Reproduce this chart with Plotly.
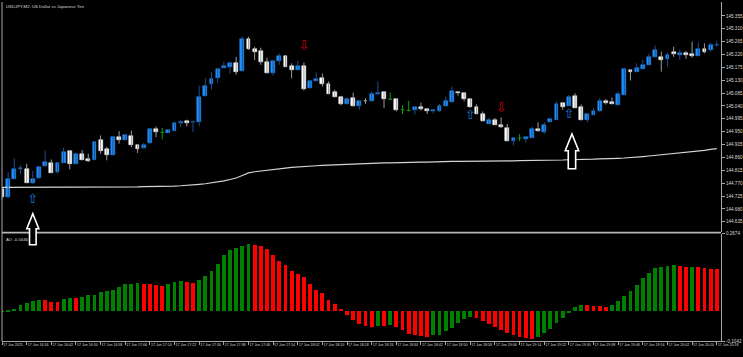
import plotly.graph_objects as go
import pandas as pd

# ---------------- data ----------------
opens = [144.749, 144.720, 144.786, 144.818, 144.821, 144.771, 144.787, 144.830, 144.841, 144.809,
         144.841, 144.882, 144.838, 144.873, 144.853, 144.852, 144.921, 144.888, 144.868, 144.932,
         144.920, 144.935, 144.903, 144.892, 144.910, 144.961, 144.948, 144.946, 144.954, 144.980,
         144.986, 144.983, 144.984, 145.076, 145.116, 145.137, 145.174, 145.178, 145.189, 145.163,
         145.274, 145.241, 145.233, 145.193, 145.154, 145.199, 145.215, 145.180, 145.166, 145.180,
         145.102, 145.128, 145.139, 145.116, 145.088, 145.073, 145.047, 145.067, 145.039, 145.057,
         145.056, 145.081, 145.088, 145.064, 145.065, 145.027, 145.025, 145.025, 145.035, 145.031,
         145.021, 145.021, 145.039, 145.054, 145.088, 145.085, 145.064, 145.035, 145.013, 144.978,
         144.990, 144.975, 144.963, 144.917, 144.928, 144.926, 144.928, 144.960, 144.949, 144.984,
         144.992, 145.050, 145.041, 145.076, 145.035, 144.990, 145.010, 145.021, 145.056, 145.054,
         145.045, 145.079, 145.166, 145.160, 145.170, 145.184, 145.212, 145.212, 145.206, 145.230,
         145.218, 145.224, 145.222, 145.216, 145.241, 145.236, 145.253]
highs = [144.754, 144.809, 144.857, 144.833, 144.838, 144.813, 144.830, 144.885, 144.853, 144.844,
         144.894, 144.884, 144.875, 144.886, 144.873, 144.917, 144.937, 144.897, 144.934, 144.952,
         144.940, 144.954, 144.905, 144.911, 144.960, 144.968, 144.963, 144.957, 144.981, 144.992,
         144.992, 144.989, 145.111, 145.137, 145.158, 145.171, 145.195, 145.193, 145.212, 145.284,
         145.282, 145.247, 145.244, 145.209, 145.199, 145.224, 145.218, 145.189, 145.198, 145.192,
         145.129, 145.157, 145.154, 145.126, 145.097, 145.075, 145.070, 145.087, 145.058, 145.067,
         145.091, 145.126, 145.090, 145.087, 145.066, 145.042, 145.058, 145.036, 145.052, 145.032,
         145.026, 145.047, 145.073, 145.108, 145.091, 145.086, 145.065, 145.045, 145.021, 144.998,
         144.998, 145.000, 144.977, 144.929, 144.942, 144.932, 144.967, 144.983, 144.983, 144.995,
         145.056, 145.051, 145.079, 145.085, 145.045, 145.014, 145.033, 145.067, 145.064, 145.070,
         145.091, 145.174, 145.167, 145.189, 145.202, 145.223, 145.251, 145.230, 145.226, 145.247,
         145.236, 145.232, 145.265, 145.262, 145.259, 145.262, 145.268]
lows = [144.715, 144.717, 144.785, 144.801, 144.771, 144.766, 144.785, 144.828, 144.806, 144.803,
        144.840, 144.818, 144.837, 144.851, 144.844, 144.851, 144.873, 144.850, 144.867, 144.908,
        144.919, 144.896, 144.876, 144.890, 144.908, 144.931, 144.923, 144.945, 144.953, 144.966,
        144.969, 144.949, 144.969, 145.074, 145.097, 145.120, 145.173, 145.154, 145.149, 145.161,
        145.236, 145.201, 145.184, 145.153, 145.146, 145.184, 145.177, 145.137, 145.165, 145.094,
        145.101, 145.127, 145.108, 145.081, 145.070, 145.042, 145.046, 145.038, 145.027, 145.047,
        145.055, 145.079, 145.033, 145.062, 145.021, 145.012, 145.021, 145.010, 145.024, 145.012,
        145.014, 145.020, 145.038, 145.052, 145.076, 145.056, 145.034, 145.011, 144.985, 144.977,
        144.974, 144.963, 144.916, 144.902, 144.917, 144.911, 144.927, 144.951, 144.942, 144.983,
        144.991, 145.027, 145.040, 145.032, 144.990, 144.983, 145.008, 145.020, 145.045, 145.046,
        145.043, 145.078, 145.129, 145.159, 145.168, 145.182, 145.209, 145.160, 145.178, 145.212,
        145.202, 145.205, 145.209, 145.215, 145.224, 145.230, 145.247]
closes = [144.720, 144.784, 144.818, 144.824, 144.772, 144.785, 144.828, 144.844, 144.807, 144.841,
          144.880, 144.838, 144.873, 144.852, 144.846, 144.914, 144.882, 144.868, 144.932, 144.921,
          144.938, 144.903, 144.888, 144.905, 144.959, 144.949, 144.948, 144.955, 144.980, 144.984,
          144.980, 144.984, 145.073, 145.111, 145.135, 145.170, 145.181, 145.192, 145.158, 145.276,
          145.241, 145.230, 145.193, 145.154, 145.198, 145.215, 145.178, 145.166, 145.181, 145.099,
          145.128, 145.134, 145.116, 145.083, 145.071, 145.047, 145.064, 145.039, 145.056, 145.056,
          145.083, 145.087, 145.064, 145.064, 145.025, 145.027, 145.025, 145.035, 145.029, 145.021,
          145.025, 145.039, 145.058, 145.094, 145.085, 145.064, 145.035, 145.012, 144.986, 144.992,
          144.975, 144.967, 144.917, 144.928, 144.928, 144.931, 144.960, 144.952, 144.975, 144.994,
          145.048, 145.036, 145.070, 145.033, 144.991, 145.013, 145.024, 145.058, 145.050, 145.047,
          145.081, 145.170, 145.158, 145.174, 145.184, 145.212, 145.237, 145.202, 145.219, 145.223,
          145.224, 145.218, 145.215, 145.238, 145.230, 145.255, 145.255]
ma_values = [
    144.755, 144.755, 144.755, 144.755, 144.755, 144.755, 144.755, 144.755, 144.755, 144.755,
    144.755, 144.755, 144.755, 144.755, 144.755, 144.755, 144.755, 144.755, 144.755, 144.756,
    144.756, 144.757, 144.757, 144.758, 144.758, 144.759, 144.759, 144.760, 144.760, 144.761,
    144.762, 144.764, 144.766, 144.768, 144.771, 144.774, 144.778, 144.783, 144.788, 144.797,
    144.806, 144.810, 144.813, 144.816, 144.819, 144.821, 144.823, 144.825, 144.827, 144.829,
    144.830, 144.831, 144.832, 144.833, 144.834, 144.836, 144.837, 144.838, 144.838, 144.839,
    144.840, 144.840, 144.841, 144.841, 144.842, 144.842, 144.843, 144.843, 144.844, 144.844,
    144.845, 144.845, 144.845, 144.846, 144.846, 144.846, 144.846, 144.847, 144.847, 144.847,
    144.847, 144.848, 144.848, 144.848, 144.849, 144.849, 144.849, 144.850, 144.850, 144.850,
    144.851, 144.851, 144.852, 144.852, 144.853, 144.853, 144.854, 144.855, 144.855, 144.856,
    144.857, 144.858, 144.859, 144.861, 144.863, 144.865, 144.867, 144.869, 144.871, 144.873,
    144.876, 144.877, 144.879, 144.883, 144.885, 144.888, 144.891]
ao_values = [0.0005, 0.0015, 0.0079, 0.0230, 0.0299, 0.0354, 0.0402, 0.0389, 0.0320, 0.0310,
             0.0423, 0.0458, 0.0447, 0.0506, 0.0550, 0.0574, 0.0664, 0.0698, 0.0746, 0.0836,
             0.0929, 0.0953, 0.0974, 0.0939, 0.0929, 0.0905, 0.0870, 0.0939, 0.1022, 0.1032,
             0.1022, 0.0974, 0.1066, 0.1228, 0.1410, 0.1641, 0.1961, 0.2122, 0.2178, 0.2260,
             0.2329, 0.2294, 0.2246, 0.2157, 0.1950, 0.1744, 0.1593, 0.1410, 0.1307, 0.1170,
             0.0929, 0.0746, 0.0630, 0.0402, 0.0241, 0.0093, -0.0127, -0.0310, -0.0458, -0.0526,
             -0.0550, -0.0516, -0.0526, -0.0492, -0.0550, -0.0664, -0.0791, -0.0836, -0.0870, -0.0884,
             -0.0836, -0.0815, -0.0698, -0.0585, -0.0413, -0.0265, -0.0182, -0.0217, -0.0320, -0.0447,
             -0.0561, -0.0664, -0.0746, -0.0836, -0.0894, -0.0929, -0.0963, -0.0884, -0.0746, -0.0609,
             -0.0402, -0.0217, -0.0034, 0.0162, 0.0217, 0.0206, 0.0196, 0.0172, 0.0162, 0.0230,
             0.0368, 0.0540, 0.0712, 0.0918, 0.1135, 0.1331, 0.1490, 0.1538, 0.1558, 0.1593,
             0.1582, 0.1538, 0.1548, 0.1538, 0.1503, 0.1469, 0.1455]

bar_times = pd.date_range("2025-06-17 16:26", periods=len(opens), freq="2min")
time_label_step = 4
price_tick_labels = ["144.635", "144.680", "144.725", "144.770", "144.815", "144.860",
                     "144.905", "144.950", "144.995", "145.040", "145.085", "145.130",
                     "145.175", "145.220", "145.265", "145.310", "145.355"]
ao_tick_labels = ["0.2674", "-0.1042"]
ao_axis_range = [-0.1042, 0.2674]
price_axis_range = [144.6005, 145.4037]

up_signal_bars = [5, 76, 92]
up_signal_prices = [144.712, 145.005, 145.008]
down_signal_bars = [49, 81]
down_signal_prices = [145.248, 145.032]

callout_bars = [5, 92.5]
callout_tip_prices = [144.663, 144.942]
callout_scale = [1.0, 1.12]

title_text = "USDJPY,M2: US Dollar vs Japanese Yen"
ao_label_text = "AO -0.0446"

# ---------------- styling ----------------
BG = "#000000"
AXIS = "#a8a8a8"
TXT = "#d8d8d8"
BULL_BODY = "#1e90ff"
BULL_WICK = "#1f4f8f"
BEAR_BODY = "#ffffff"
BEAR_WICK = "#9a9a9a"
DOJI = "#139a13"
AO_UP = "#008000"
AO_DN = "#ff0000"
FONT = "Liberation Sans"
W = 0.62

n = len(opens)
idx = list(range(n))

fig = go.Figure()

# moving average
fig.add_trace(go.Scatter(x=idx, y=ma_values, mode="lines",
                         line=dict(color="#d4d4d4", width=1.2), hoverinfo="skip",
                         xaxis="x", yaxis="y"))

# wicks
bull_x, bull_y, bear_x, bear_y, doji_x, doji_y = [], [], [], [], [], []
for i in idx:
    if closes[i] > opens[i]:
        bull_x += [i, i, None]; bull_y += [lows[i], highs[i], None]
    elif closes[i] < opens[i]:
        bear_x += [i, i, None]; bear_y += [lows[i], highs[i], None]
    else:
        doji_x += [i, i, None, i - W / 2, i + W / 2, None]
        doji_y += [lows[i], highs[i], None, opens[i], opens[i], None]
for xs, ys, c in [(bull_x, bull_y, BULL_WICK), (bear_x, bear_y, BEAR_WICK), (doji_x, doji_y, DOJI)]:
    fig.add_trace(go.Scatter(x=xs, y=ys, mode="lines", line=dict(color=c, width=1),
                             hoverinfo="skip", xaxis="x", yaxis="y"))

# bodies
bi = [i for i in idx if closes[i] > opens[i]]
si = [i for i in idx if closes[i] < opens[i]]
fig.add_trace(go.Bar(x=bi, y=[closes[i] - opens[i] for i in bi], base=[opens[i] for i in bi],
                     width=W, marker=dict(color=BULL_BODY, line=dict(color=BULL_BODY, width=0.5)),
                     xaxis="x", yaxis="y", hoverinfo="skip"))
fig.add_trace(go.Bar(x=si, y=[closes[i] - opens[i] for i in si], base=[opens[i] for i in si],
                     width=W, marker=dict(color=BEAR_BODY, line=dict(color=BEAR_BODY, width=0.5)),
                     xaxis="x", yaxis="y", hoverinfo="skip"))

# signal arrows
fig.add_trace(go.Scatter(x=up_signal_bars, y=up_signal_prices, mode="text", text=["⇧"] * len(up_signal_bars),
                         textfont=dict(family="DejaVu Sans", size=13, color="#1c78d8"),
                         textposition="middle center", xaxis="x", yaxis="y", hoverinfo="skip"))
fig.add_trace(go.Scatter(x=down_signal_bars, y=down_signal_prices, mode="text", text=["⇩"] * len(down_signal_bars),
                         textfont=dict(family="DejaVu Sans", size=13, color="#d00000"),
                         textposition="middle center", xaxis="x", yaxis="y", hoverinfo="skip"))

# AO histogram
ao_colors = [AO_UP if i == 0 or ao_values[i] > ao_values[i - 1] else AO_DN for i in idx]
fig.add_trace(go.Bar(x=idx, y=ao_values, width=W, marker=dict(color=ao_colors, line=dict(width=0)),
                     xaxis="x", yaxis="y2", hoverinfo="skip"))

# ---------------- layout ----------------
ML, MR, MT, MB = 2, 21, 0, 16
H = 357
plot_h = H - MT - MB
main_bottom = (plot_h - 231) / plot_h
ao_top = (plot_h - 233) / plot_h
sep_y = (plot_h - 232) / plot_h


def price_to_paper(p):
    lo, hi = price_axis_range
    return main_bottom + (p - lo) / (hi - lo) * (1 - main_bottom)


tick_bars = idx[::time_label_step]
tick_text = []
for k in tick_bars:
    t = bar_times[k]
    tick_text.append(t.strftime("%d %b %Y") if k == 0 else t.strftime("%d %b %H:%M"))

shapes = [
    dict(type="line", xref="paper", yref="paper", x0=0, x1=0, y0=0, y1=1,
         line=dict(color=AXIS, width=1)),
    dict(type="line", xref="paper", yref="paper", x0=0, x1=1, y0=sep_y, y1=sep_y,
         line=dict(color="#b8b8b8", width=1.6)),
]
for b, p, s in zip(callout_bars, callout_tip_prices, callout_scale):
    hw, sw, hh, tl = 6.0 * s, 3.3 * s, 15.0 * s, 31.0 * s
    path = (f"M 0 0 L {hw} {-hh} L {sw} {-hh} L {sw} {-tl} L {-sw} {-tl} "
            f"L {-sw} {-hh} L {-hw} {-hh} Z")
    shapes.append(dict(type="path", xref="x", yref="paper", xsizemode="pixel", ysizemode="pixel",
                       xanchor=b, yanchor=price_to_paper(p), path=path, fillcolor=BG,
                       line=dict(color="#ffffff", width=1.6), layer="above"))

fig.update_layout(
    width=743, height=H,
    margin=dict(l=ML, r=MR, t=MT, b=MB, pad=0),
    paper_bgcolor=BG, plot_bgcolor=BG,
    showlegend=False, barmode="overlay", bargap=0,
    font=dict(family=FONT, size=5, color=TXT),
    xaxis=dict(domain=[0, 1], anchor="y2", range=[0, 116.69], showgrid=False, zeroline=False,
               showline=True, linecolor=AXIS, linewidth=1, ticks="outside", ticklen=3,
               tickcolor=AXIS, tickwidth=1, tickvals=tick_bars, ticktext=tick_text,
               tickangle=0, ticklabelposition="outside right",
               tickfont=dict(size=3.6, color=TXT, family=FONT), fixedrange=True),
    yaxis=dict(domain=[main_bottom, 1], anchor="x", side="right", range=price_axis_range,
               showgrid=False, zeroline=False, showline=True, linecolor=AXIS, linewidth=1,
               ticks="outside", ticklen=3, tickcolor=AXIS,
               tickvals=[float(v) for v in price_tick_labels], ticktext=price_tick_labels,
               tickfont=dict(size=4.6, color=TXT, family=FONT), fixedrange=True),
    yaxis2=dict(domain=[0, ao_top], anchor="x", side="right", range=ao_axis_range,
                showgrid=False, zeroline=False, showline=True, linecolor=AXIS, linewidth=1,
                ticks="outside", ticklen=3, tickcolor=AXIS,
                tickvals=[float(v) for v in ao_tick_labels], ticktext=ao_tick_labels,
                tickfont=dict(size=4.6, color=TXT, family=FONT), fixedrange=True),
    shapes=shapes,
    annotations=[
        dict(text=title_text, xref="paper", yref="paper", x=0.003, y=1.0, xanchor="left",
             yanchor="top", showarrow=False, font=dict(size=4.3, color=TXT, family=FONT)),
        dict(text=ao_label_text, xref="paper", yref="paper", x=0.003, y=ao_top - 0.005,
             xanchor="left", yanchor="top", showarrow=False,
             font=dict(size=4.3, color=TXT, family=FONT)),
    ],
)

fig.write_html("out.html")
